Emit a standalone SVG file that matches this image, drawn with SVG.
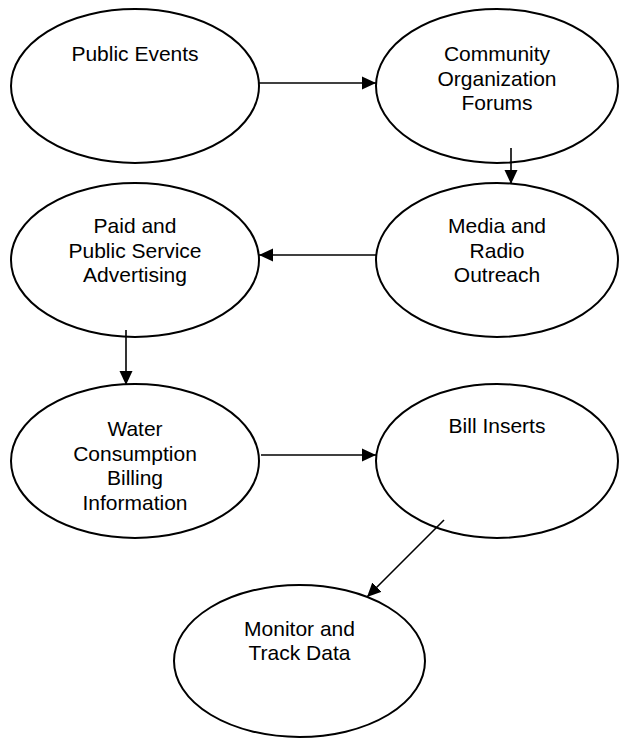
<svg xmlns="http://www.w3.org/2000/svg" width="619" height="739" viewBox="0 0 619 739">
<defs>
<style>
.n ellipse{fill:#fff;stroke:#000;stroke-width:2}
.n text{font-family:"Liberation Sans",Arial,sans-serif;font-size:21px;fill:#000;text-anchor:middle}
.c line{stroke:#000;stroke-width:1.6}
</style>
<marker id="ah" viewBox="0 0 14 14" refX="14" refY="7" markerWidth="14" markerHeight="14" markerUnits="userSpaceOnUse" orient="auto">
<path d="M0,0.5 L14,7 L0,13.5 Z" fill="#000"/>
</marker>
</defs>
<g id="n1" class="n"><ellipse cx="135" cy="86" rx="124" ry="77"/><text x="135" y="61">Public Events</text></g>
<g id="n2" class="n"><ellipse cx="497" cy="86" rx="121" ry="77"/><text x="497" y="61">Community</text><text x="497" y="85.5">Organization</text><text x="497" y="110">Forums</text></g>
<g id="n3" class="n"><ellipse cx="497" cy="260" rx="121" ry="77"/><text x="497" y="233">Media and</text><text x="497" y="257.5">Radio</text><text x="497" y="282">Outreach</text></g>
<g id="n4" class="n"><ellipse cx="135" cy="260" rx="124" ry="77"/><text x="135" y="233">Paid and</text><text x="135" y="257.5">Public Service</text><text x="135" y="282">Advertising</text></g>
<g id="n5" class="n"><ellipse cx="135" cy="461" rx="124" ry="77"/><text x="135" y="436">Water</text><text x="135" y="460.5">Consumption</text><text x="135" y="485">Billing</text><text x="135" y="509.5">Information</text></g>
<g id="n6" class="n"><ellipse cx="497" cy="461" rx="121" ry="77"/><text x="497" y="433">Bill Inserts</text></g>
<g id="n7" class="n"><ellipse cx="299.5" cy="661" rx="125.5" ry="76"/><text x="299.5" y="636">Monitor and</text><text x="299.5" y="660">Track Data</text></g>
<g id="connectors" class="c">
<line x1="259" y1="83" x2="376" y2="83" marker-end="url(#ah)"/>
<line x1="511" y1="148" x2="511" y2="184" marker-end="url(#ah)"/>
<line x1="376" y1="255" x2="259" y2="255" marker-end="url(#ah)"/>
<line x1="126" y1="330" x2="126" y2="385" marker-end="url(#ah)"/>
<line x1="261" y1="455" x2="376" y2="455" marker-end="url(#ah)"/>
<line x1="444" y1="520" x2="367" y2="597" marker-end="url(#ah)"/>
</g>
</svg>
